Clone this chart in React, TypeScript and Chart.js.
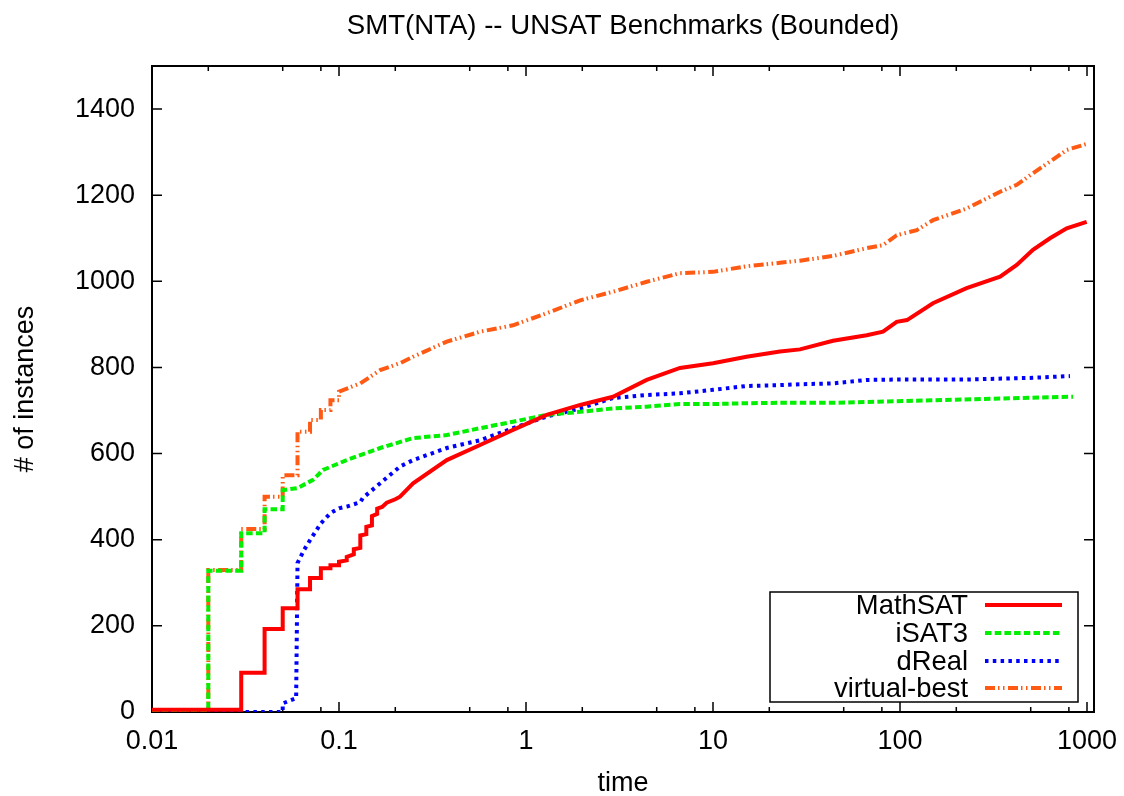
import { useEffect, useRef } from 'react';
import { Chart, registerables } from 'chart.js';

Chart.register(...registerables);

const chartTitle = 'SMT(NTA) -- UNSAT Benchmarks (Bounded)';
const xAxisTitle = 'time';
const yAxisTitle = '# of instances';

const xTickValues = [0.01, 0.1, 1, 10, 100, 1000];
const xTickLabels = ['0.01', '0.1', '1', '10', '100', '1000'];
const xMinorFactors = [2, 5, 8];
const yTickValues = [0, 200, 400, 600, 800, 1000, 1200, 1400];

const seriesNames = ['MathSAT', 'iSAT3', 'dReal', 'virtual-best'];
const seriesColors = ['#ff0000', '#00f000', '#0000ff', '#ff5a14'];

// [time, number of instances]
const mathsat: [number, number][] = [
  [0.01, 5], [0.03, 5], [0.03, 91], [0.04, 91], [0.04, 193], [0.05, 193], [0.05, 241], [0.06, 241],
  [0.06, 285], [0.07, 285], [0.07, 311], [0.08, 311], [0.08, 334], [0.09, 334], [0.09, 341], [0.1, 341],
  [0.1, 349], [0.11, 352], [0.11, 360], [0.12, 366], [0.12, 378], [0.13, 381], [0.13, 410], [0.14, 413],
  [0.14, 430], [0.15, 433], [0.15, 455], [0.16, 460], [0.16, 472], [0.17, 476], [0.18, 486], [0.2, 494],
  [0.212, 500], [0.249, 531], [0.377, 585], [0.568, 620], [0.852, 655], [1.29, 690], [1.95, 713], [2.92, 732],
  [4.42, 771], [6.66, 799], [10, 810], [15.1, 825], [22.8, 837], [29.2, 842], [43.8, 862], [66.4, 875],
  [81.1, 883], [96, 906], [109, 910], [150, 949], [227, 984], [343, 1011], [421, 1038], [514, 1073],
  [634, 1100], [779, 1123], [996, 1138],
];

const isat3: [number, number][] = [
  [0.01, 3], [0.02, 3], [0.02, 328], [0.03, 328], [0.03, 415], [0.04, 415], [0.04, 471], [0.05, 471],
  [0.05, 515], [0.06, 520], [0.0726, 539], [0.0821, 562], [0.11, 585], [0.166, 613], [0.249, 636],
  [0.377, 643], [0.568, 659], [0.852, 674], [1.29, 690], [1.95, 697], [2.92, 705], [4.42, 709],
  [6.66, 715], [10, 715], [15.1, 717], [22.8, 718], [43.8, 718], [66.4, 720], [150, 724], [343, 728],
  [842, 732],
];

const dreal: [number, number][] = [
  [0.01, 0], [0.05, 0], [0.05, 20], [0.059, 32], [0.06, 346], [0.065, 376], [0.07, 399], [0.08, 438],
  [0.09, 462], [0.1, 473], [0.11, 477], [0.13, 487], [0.134, 497], [0.166, 531], [0.212, 570],
  [0.249, 585], [0.377, 613], [0.568, 631], [0.852, 659], [1.29, 686], [1.95, 705], [2.92, 729],
  [4.42, 736], [6.66, 740], [10, 748], [15.1, 757], [22.8, 759], [29.2, 761], [43.8, 763], [66.4, 771],
  [96, 772], [227, 772], [514, 776], [811, 780],
];

const virtualBest: [number, number][] = [
  [0.01, 3], [0.02, 3], [0.02, 330], [0.03, 330], [0.03, 425], [0.04, 425], [0.04, 500], [0.05, 500],
  [0.05, 550], [0.06, 550], [0.06, 651], [0.07, 651], [0.07, 678], [0.08, 678], [0.08, 701], [0.09, 701],
  [0.09, 724], [0.1, 724], [0.1, 744], [0.13, 763], [0.166, 794], [0.212, 810], [0.249, 825],
  [0.377, 860], [0.568, 883], [0.852, 898], [1.29, 926], [1.95, 956], [2.92, 976], [4.42, 999],
  [6.66, 1019], [10, 1022], [15.1, 1035], [22.8, 1043], [29.2, 1048], [43.8, 1059], [66.4, 1077],
  [81.1, 1084], [96, 1107], [123, 1119], [150, 1142], [227, 1169], [343, 1208], [421, 1224],
  [514, 1251], [634, 1278], [779, 1305], [996, 1319],
];

const seriesData = [mathsat, isat3, dreal, virtualBest];
const seriesDash: number[][] = [[], [6.5, 3.2], [3.5, 4.3], [10, 3, 1.5, 3.5, 1.5, 3.5]];

const FONT = '"Liberation Sans", Arial, Helvetica, sans-serif';

const gnuplotPlugin = {
  id: 'gnuplotDecor',
  beforeDatasetsDraw(chart: any) {
    const { ctx, chartArea: a, scales } = chart;
    const xs = scales.x;
    const ys = scales.y;
    ctx.save();
    ctx.strokeStyle = '#000';
    ctx.lineWidth = 1.5;
    ctx.beginPath();
    for (const v of yTickValues) {
      const p = ys.getPixelForValue(v);
      ctx.moveTo(a.left, p);
      ctx.lineTo(a.left + 10, p);
      ctx.moveTo(a.right, p);
      ctx.lineTo(a.right - 10, p);
    }
    for (const d of xTickValues) {
      const p = xs.getPixelForValue(d);
      ctx.moveTo(p, a.bottom);
      ctx.lineTo(p, a.bottom - 10);
      ctx.moveTo(p, a.top);
      ctx.lineTo(p, a.top + 10);
      for (const m of xMinorFactors) {
        const v = d * m;
        if (v > xs.max) continue;
        const q = xs.getPixelForValue(v);
        ctx.moveTo(q, a.bottom);
        ctx.lineTo(q, a.bottom - 5);
        ctx.moveTo(q, a.top);
        ctx.lineTo(q, a.top + 5);
      }
    }
    ctx.stroke();
    ctx.lineWidth = 2;
    ctx.strokeRect(a.left, a.top, a.right - a.left, a.bottom - a.top);
    ctx.restore();
  },
  afterDraw(chart: any) {
    const { ctx, chartArea: a } = chart;
    ctx.save();
    ctx.fillStyle = '#000';
    ctx.textAlign = 'center';
    ctx.textBaseline = 'alphabetic';
    const cx = (a.left + a.right) / 2;
    ctx.font = `27.6px ${FONT}`;
    ctx.fillText(chartTitle, cx, 34);
    ctx.font = `27px ${FONT}`;
    ctx.fillText(xAxisTitle, cx, 791);
    ctx.save();
    ctx.translate(33, (a.top + a.bottom) / 2);
    ctx.rotate(-Math.PI / 2);
    ctx.fillText(yAxisTitle, 0, 0);
    ctx.restore();

    // legend
    const boxL = 770, boxT = 592, boxR = 1078, boxB = 702;
    ctx.strokeStyle = '#000';
    ctx.lineWidth = 1.5;
    ctx.strokeRect(boxL, boxT, boxR - boxL, boxB - boxT);
    const rowY = [605, 633, 661, 688];
    ctx.font = `27.4px ${FONT}`;
    ctx.textAlign = 'right';
    ctx.textBaseline = 'middle';
    seriesNames.forEach((name, i) => {
      ctx.fillStyle = '#000';
      ctx.fillText(name, 968, rowY[i] + 1);
      ctx.beginPath();
      ctx.strokeStyle = seriesColors[i];
      ctx.lineWidth = 4;
      ctx.lineCap = 'butt';
      ctx.setLineDash(seriesDash[i]);
      ctx.moveTo(985, rowY[i]);
      ctx.lineTo(1062, rowY[i]);
      ctx.stroke();
      ctx.setLineDash([]);
    });
    ctx.restore();
  },
};

export default function App() {
  const canvasRef = useRef<HTMLCanvasElement | null>(null);

  useEffect(() => {
    if (!canvasRef.current) return;
    const chart = new Chart(canvasRef.current, {
      type: 'line',
      data: {
        datasets: seriesNames.map((name, i) => ({
          label: name,
          data: seriesData[i].map(([x, y]) => ({ x, y })),
          borderColor: seriesColors[i],
          backgroundColor: seriesColors[i],
          borderWidth: 4,
          borderDash: seriesDash[i],
          borderCapStyle: 'butt' as const,
          borderJoinStyle: 'miter' as const,
          pointRadius: 0,
          pointHoverRadius: 0,
          tension: 0,
          fill: false,
        })),
      },
      options: {
        animation: false,
        responsive: false,
        devicePixelRatio: 1,
        events: [],
        layout: { padding: { left: 0, right: 30, top: 66, bottom: 0 } },
        plugins: {
          legend: { display: false },
          tooltip: { enabled: false },
          title: { display: false },
        },
        scales: {
          x: {
            type: 'logarithmic',
            min: 0.01,
            max: 1090,
            grid: { display: false, drawTicks: false },
            border: { display: false },
            afterBuildTicks: (scale: any) => {
              scale.ticks = xTickValues.map((v) => ({ value: v }));
            },
            afterFit: (scale: any) => {
              scale.height = 84;
              scale.paddingLeft = 0;
              scale.paddingRight = 0;
            },
            ticks: {
              autoSkip: false,
              maxRotation: 0,
              minRotation: 0,
              padding: 13,
              color: '#000',
              font: { family: FONT, size: 27 },
              callback: (value: any) => {
                const idx = xTickValues.findIndex((v) => Math.abs(v - Number(value)) < 1e-9);
                return idx >= 0 ? xTickLabels[idx] : '';
              },
            },
          },
          y: {
            type: 'linear',
            min: 0,
            max: 1500,
            grid: { display: false, drawTicks: false },
            border: { display: false },
            afterBuildTicks: (scale: any) => {
              scale.ticks = yTickValues.map((v) => ({ value: v }));
            },
            afterFit: (scale: any) => {
              scale.width = 152;
              scale.paddingTop = 0;
              scale.paddingBottom = 0;
            },
            ticks: {
              padding: 17,
              color: '#000',
              font: { family: FONT, size: 27 },
              callback: (value: any) => String(value),
            },
          },
        },
      },
      plugins: [gnuplotPlugin],
    } as any);
    return () => chart.destroy();
  }, []);

  return (
    <div style={{ position: 'absolute', left: 0, top: 0, width: 1124, height: 796, background: '#fff' }}>
      <canvas ref={canvasRef} width={1124} height={796} style={{ display: 'block', width: 1124, height: 796 }} />
    </div>
  );
}
